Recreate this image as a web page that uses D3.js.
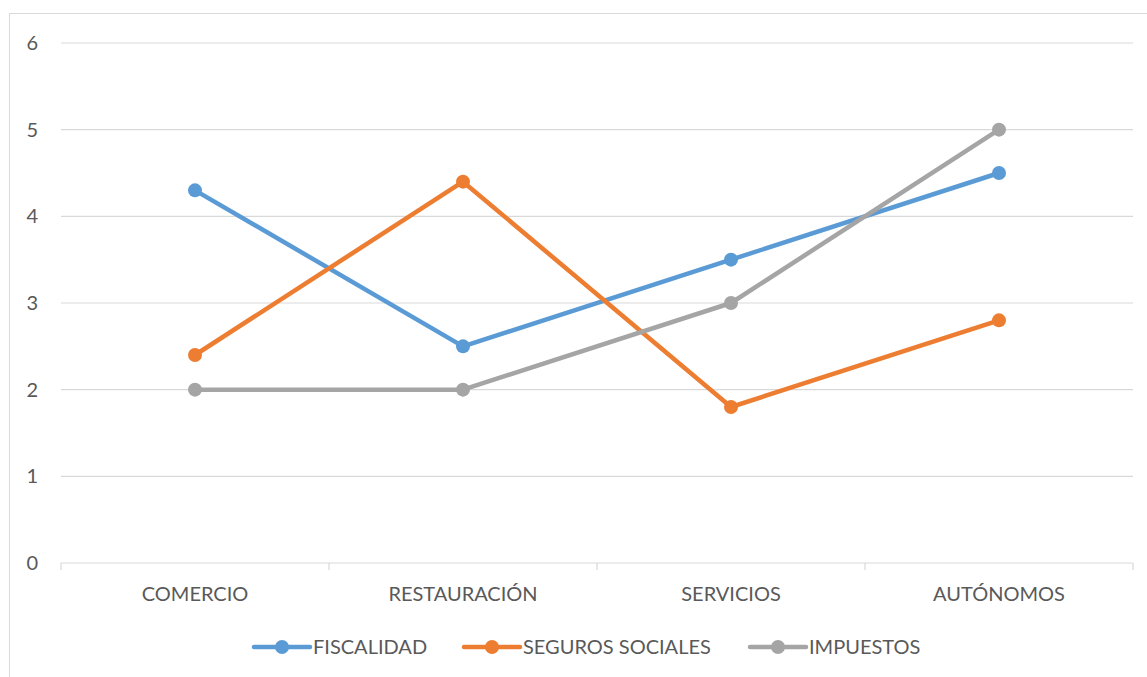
<!DOCTYPE html>
<html><head><meta charset="utf-8">
<script src="https://cdn.jsdelivr.net/npm/d3@7"></script>
<style>body{margin:0;background:#fff;}svg{display:block;font-family:Lato,sans-serif;}</style>
</head><body>
<svg id="c" width="1147" height="677"></svg>
<script>
const categories = ["COMERCIO", "RESTAURACIÓN", "SERVICIOS", "AUTÓNOMOS"];
const seriesNames = ["FISCALIDAD", "SEGUROS SOCIALES", "IMPUESTOS"];
const fiscalidad = [4.3, 2.5, 3.5, 4.5];
const segurosSociales = [2.4, 4.4, 1.8, 2.8];
const impuestos = [2, 2, 3, 5];
const yTicks = [0, 1, 2, 3, 4, 5, 6];
const colors = ["#5B9BD5", "#ED7D31", "#A5A5A5"];

(function(){
const series = [fiscalidad, segurosSociales, impuestos];
const svg = d3.select("#c");
const fs = 20;
// chart border
svg.append("rect").attr("x", 9.5).attr("y", 13.5).attr("width", 1147).attr("height", 700)
  .attr("fill", "none").attr("stroke", "#D9D9D9").attr("stroke-width", 1);

const pLeft = 61, pRight = 1133, pTop = 43, pBottom = 563;
const x = d3.scaleBand().domain(categories).range([pLeft, pRight]).padding(0);
const y = d3.scaleLinear().domain([0, 6]).range([pBottom, pTop]);

// gridlines
svg.append("g").selectAll("line").data(yTicks.filter(d => d > 0)).join("line")
  .attr("x1", pLeft).attr("x2", pRight)
  .attr("y1", d => y(d)).attr("y2", d => y(d))
  .attr("stroke", "#D9D9D9").attr("stroke-width", 1.2);

// y labels
svg.append("g").selectAll("text").data(yTicks).join("text")
  .attr("x", 38).attr("y", d => y(d) + 7)
  .attr("text-anchor", "end").attr("fill", "#595959").attr("font-size", fs)
  .text(d => d);

// x axis
const xAxis = d3.axisBottom(x).tickSize(0).tickFormat(d => d);
const gx = svg.append("g").attr("transform", `translate(0,${pBottom})`).call(xAxis);
gx.select(".domain").remove();
gx.selectAll("text").attr("fill", "#595959").attr("font-size", fs)
  .attr("font-family", "Lato,sans-serif").attr("dy", "0").attr("y", 38);
svg.append("line").attr("x1", pLeft).attr("x2", pRight).attr("y1", pBottom).attr("y2", pBottom)
  .attr("stroke", "#D9D9D9").attr("stroke-width", 1.2);
const tickPos = categories.map(c => x(c)).concat([x(categories[categories.length-1]) + x.bandwidth()]);
svg.append("g").selectAll("line").data(tickPos).join("line")
  .attr("x1", d => d).attr("x2", d => d).attr("y1", pBottom).attr("y2", pBottom + 7)
  .attr("stroke", "#D9D9D9").attr("stroke-width", 1.2);

const cx = c => x(c) + x.bandwidth() / 2;
const line = d3.line().x((d, i) => cx(categories[i])).y(d => y(d));

series.forEach((s, k) => {
  const g = svg.append("g");
  g.append("path").datum(s).attr("d", line).attr("fill", "none")
    .attr("stroke", colors[k]).attr("stroke-width", 4.5).attr("stroke-linejoin", "round").attr("stroke-linecap", "round");
  g.selectAll("circle").data(s).join("circle")
    .attr("cx", (d, i) => cx(categories[i])).attr("cy", d => y(d)).attr("r", 7)
    .attr("fill", colors[k]);
});

// legend
const legendX = [254, 464, 750];
const ly = 647;
seriesNames.forEach((n, k) => {
  const g = svg.append("g");
  g.append("line").attr("x1", legendX[k]).attr("x2", legendX[k] + 56).attr("y1", ly).attr("y2", ly)
    .attr("stroke", colors[k]).attr("stroke-width", 4.5).attr("stroke-linecap", "round");
  g.append("circle").attr("cx", legendX[k] + 28).attr("cy", ly).attr("r", 7).attr("fill", colors[k]);
  g.append("text").attr("x", legendX[k] + 59).attr("y", ly + 7)
    .attr("fill", "#595959").attr("font-size", fs).text(n);
});
})();
</script>
</body></html>
